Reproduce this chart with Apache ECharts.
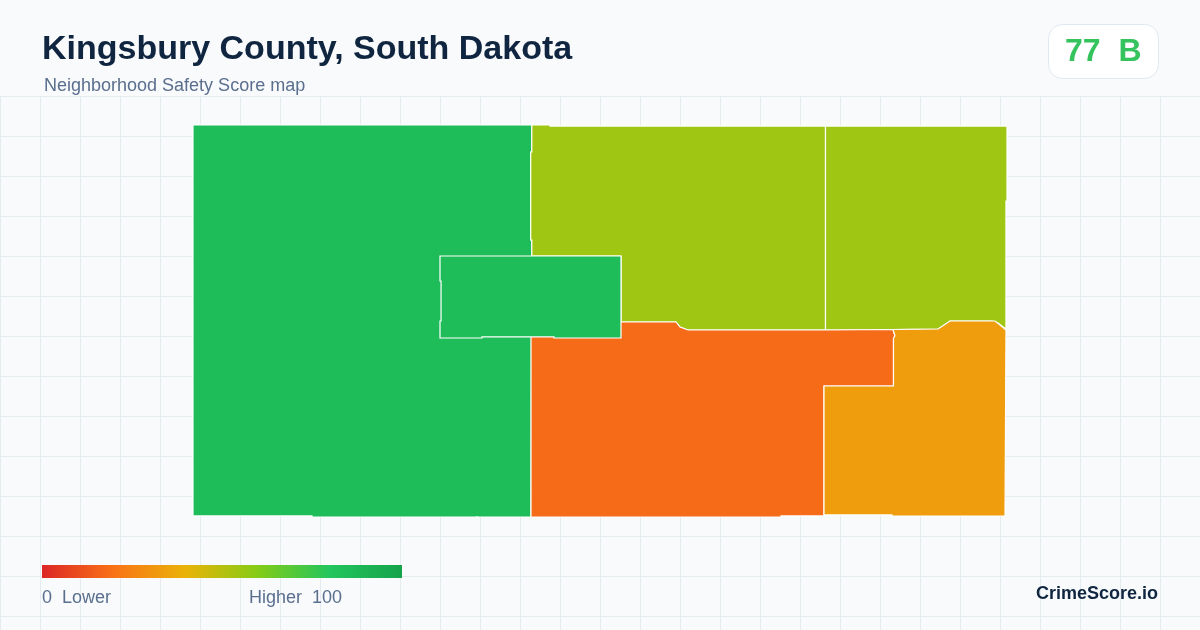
<!DOCTYPE html>
<html>
<head>
<meta charset="utf-8">
<style>html,body{margin:0;padding:0;background:#f8fafc}#c{width:1200px;height:630px}</style>
<script src="https://cdn.jsdelivr.net/npm/echarts@6/dist/echarts.min.js"></script>
</head>
<body>
<div id="c"></div>
<script>
// Data
const titleText = 'Kingsbury County, South Dakota';
const subtitleText = 'Neighborhood Safety Score map';
const badgeText = '77  B';
const brandText = 'CrimeScore.io';
const legendLow = '0  Lower';
const legendHigh = 'Higher  100';
const regionNames = ['West', 'North Central', 'Northeast', 'South Central', 'Southeast', 'Town'];
const regionScores = [85, 55, 55, 18, 33, 85];
const scaleColors = ['#dc2626', '#f97316', '#eab308', '#84cc16', '#22c55e', '#16a34a'];
// Region outlines, in map units (east, south) measured from the county's north-west corner
const outlineWest = [[0,0],[338.8,0],[338.8,27],[337.7,27],[337.7,115],[338.8,115],[338.8,131],[338,131],[338,392],[284,392],[284,390.95],[284,392],[119,392],[119,390.95],[0,390.95]];
const outlineNorthCentral = [[338.8,0],[357,0],[357,1.05],[632.5,1.05],[632.5,205],[495,205],[487,202],[483,197],[428,197],[428,131],[338.8,131],[338.8,115],[337.7,115],[337.7,27],[338.8,27]];
const outlineNortheast = [[632.5,1.05],[814,1.05],[814,76],[812.95,76],[812.95,204],[805,198],[799,196],[757,196],[749,202],[745,204],[700,204.5],[632.5,205]];
const outlineSouthCentral = [[338,197],[428,197],[483,197],[487,202],[495,205],[632.5,205],[700,204.5],[702,211],[700.5,213],[700.5,261],[631,261],[631,390.95],[588,390.95],[588,392],[338,392]];
const outlineSoutheast = [[700,204.5],[745,204],[751,200],[757,196],[802,196],[807,200],[813,205],[812,391],[699,391],[699,389.95],[631,389.95],[631,261],[700.5,261],[700.5,213],[702,211]];
const outlineTown = [[247,131],[428,131],[428,213],[361,213],[361,211.95],[289,211.95],[289,213],[247,213],[247,196],[248.05,196],[248.05,156],[247,156]];

const outlines = [outlineWest, outlineNorthCentral, outlineNortheast, outlineSouthCentral, outlineSoutheast, outlineTown];
echarts.registerMap('county', {
  type: 'FeatureCollection',
  features: regionNames.map((name, i) => ({
    type: 'Feature',
    properties: { name },
    geometry: { type: 'Polygon', coordinates: [[...outlines[i], outlines[i][0]]] }
  }))
});

const chart = echarts.init(document.getElementById('c'));
const textFont = '"Liberation Sans", Arial, sans-serif';
const legendStops = scaleColors.map((color, i) => ({ offset: i / (scaleColors.length - 1), color }));
chart.setOption({
  animation: false,
  backgroundColor: '#f8fafc',
  grid: { left: 0, right: 0, top: 96, bottom: 0, containLabel: false },
  xAxis: { type: 'value', min: 0, max: 1200, interval: 40, axisLine: {show:false}, axisTick: {show:false}, axisLabel: {show:false},
    splitLine: { show: true, lineStyle: { color: '#e5ecef', width: 1 } } },
  yAxis: { type: 'value', min: 0, max: 534, interval: 40, inverse: true, axisLine: {show:false}, axisTick: {show:false}, axisLabel: {show:false},
    splitLine: { show: true, lineStyle: { color: '#e5ecef', width: 1 } } },
  visualMap: {
    type: 'continuous', min: 0, max: 100, show: false, seriesIndex: 0, inRange: { color: scaleColors }
  },
  series: [{
    type: 'map', map: 'county', silent: true, roam: false,
    projection: { project: p => p, unproject: p => p },
    left: 193, top: 125, width: 814, height: 392,
    label: { show: false },
    itemStyle: { borderColor: '#ffffff', borderWidth: 1.2 },
    emphasis: { disabled: true }, select: { disabled: true },
    data: regionNames.map((name, i) => ({ name, value: regionScores[i] }))
  }],
  graphic: [
    { type: 'text', z: 100, left: 42, top: 33, style: { text: titleText, font: 'bold 34px ' + textFont, fill: '#0f2540' } },
    { type: 'text', z: 100, left: 44, top: 77, style: { text: subtitleText, font: '18px ' + textFont, fill: '#5a6f8e' } },
    { type: 'rect', z: 100, left: 1048, top: 24, shape: { width: 110, height: 54, r: 14 }, style: { fill: '#ffffff', stroke: '#e2e8f0', lineWidth: 1 } },
    { type: 'text', z: 101, left: 1065, top: 36, style: { text: badgeText, font: 'bold 32px ' + textFont, fill: '#34c35c' } },
    { type: 'rect', z: 100, left: 42, top: 565, shape: { width: 360, height: 13 },
      style: { fill: new echarts.graphic.LinearGradient(0, 0, 1, 0, legendStops) } },
    { type: 'text', z: 100, left: 42, top: 589, style: { text: legendLow, font: '18px ' + textFont, fill: '#5a6f8e' } },
    { type: 'text', z: 100, left: 249, top: 589, style: { text: legendHigh, font: '18px ' + textFont, fill: '#5a6f8e' } },
    { type: 'text', z: 100, right: 42, top: 585, style: { text: brandText, font: 'bold 18px ' + textFont, fill: '#0f2540' } }
  ]
});
</script>
</body>
</html>
